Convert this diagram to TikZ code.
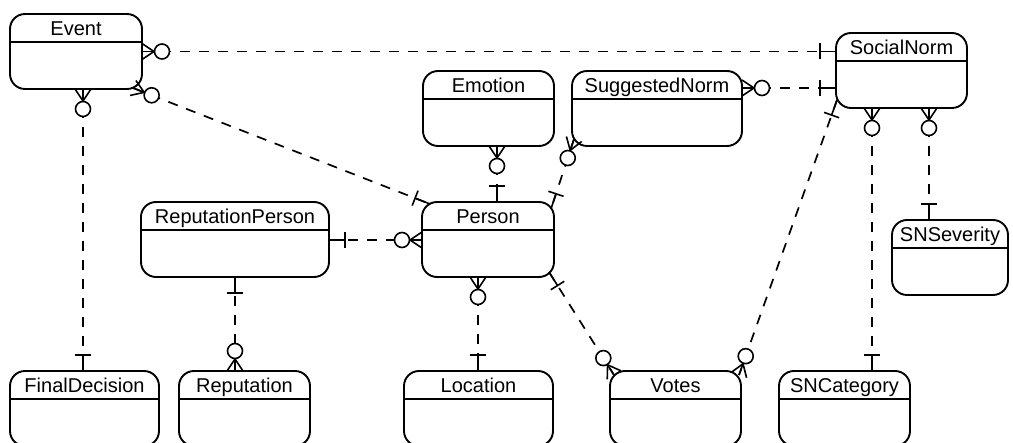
\documentclass[tikz,border=0pt]{standalone}
\usepackage{fontspec}
\setmainfont{Liberation Sans}
\usetikzlibrary{calc}

\tikzset{
  ebox/.style={draw, line width=1.9pt, rounded corners=15pt, inner sep=0pt,
    outer sep=0pt, anchor=north west},
  hdr/.style={line width=1.1pt},
  etext/.style={anchor=base, inner sep=0pt, font=\fontsize{20}{24}\selectfont},
  conn/.style={line width=1.7pt, dash pattern=on 10pt off 9pt},
  mk/.style={solid, line width=1.6pt},
}

% entity box: name, left, top, width, label
\newcommand\erbox[5]{%
  \node[ebox, minimum width=#4pt, minimum height=75pt] (#1) at (#2,#3) {};
  \draw[hdr] ($(#1.north west)+(0,28)$) -- ($(#1.north east)+(0,28)$);
  \node[etext] at ($(#1.north)+(0,22)$) {#5};
}

% zero-or-many end at #1, pointing towards #2
\newcommand\zmark[2]{%
  \draw[mk] ($(#1)!8pt!90:(#2)$) -- ($(#1)!12pt!(#2)$) -- ($(#1)!8pt!-90:(#2)$);
  \draw[mk] (#1) -- ($(#1)!12pt!(#2)$);
  \draw[mk, fill=white] ($(#1)!20pt!(#2)$) circle[radius=7.5pt];
}
% exactly-one end at #1, pointing towards #2
\newcommand\omark[2]{%
  \draw[mk] (#1) -- ($(#1)!16pt!(#2)$);
  \draw[mk] ($(#1)!16pt!(#2)!8pt!90:(#2)$) -- ($(#1)!16pt!(#2)!8pt!-90:(#2)$);
}
% relationship line: from, to, mark at start, mark at end
\newcommand\relink[4]{%
  \coordinate (la) at (#1);
  \coordinate (lb) at (#2);
  \draw[conn] (la) -- (lb);
  #3{la}{lb}
  #4{lb}{la}
}

\begin{document}
\begin{tikzpicture}[x=1pt, y=-1pt]
  \useasboundingbox (0,0) rectangle (1013,443);
  \clip (0,0) rectangle (1013,443);
  \fill[white] (0,0) rectangle (1013,443);

  % entities
  \erbox{Event}{10}{14}{132}{Event}
  \erbox{Emotion}{423}{71}{131}{Emotion}
  \erbox{SuggestedNorm}{572}{71}{170}{SuggestedNorm}
  \erbox{SocialNorm}{836}{33}{131}{SocialNorm}
  \erbox{ReputationPerson}{141}{202}{188}{ReputationPerson}
  \erbox{Person}{422}{202}{132}{Person}
  \erbox{SNSeverity}{892}{220}{116}{SNSeverity}
  \erbox{FinalDecision}{10}{371}{149}{FinalDecision}
  \erbox{Reputation}{179}{371}{131}{Reputation}
  \erbox{Location}{404}{371}{149}{Location}
  \erbox{Votes}{610}{371}{131}{Votes}
  \erbox{SNCategory}{779}{371}{131}{SNCategory}

  % relationships
  \relink{Event.east}{la -| SocialNorm.west}{\zmark}{\omark}
  \relink{$(SuggestedNorm.north east)+(0,17)$}{la -| SocialNorm.west}{\zmark}{\omark}
  \relink{$(Event.south east)+(-9,-1)$}{$(Person.north west)+(8,2)$}{\zmark}{\omark}
  \relink{$(Event.south)+(7,0)$}{la |- FinalDecision.north}{\zmark}{\omark}
  \relink{$(Emotion.south)+(8.5,0)$}{la |- Person.north}{\zmark}{\omark}
  \relink{$(SuggestedNorm.south west)+(2,-7)$}{$(Person.north east)+(-3,7)$}{\zmark}{\omark}
  \relink{$(ReputationPerson.north east)+(0,38)$}{la -| Person.west}{\omark}{\zmark}
  \relink{ReputationPerson.south}{la |- Reputation.north}{\omark}{\zmark}
  \relink{$(Person.south)+(-10,0)$}{la |- Location.north}{\zmark}{\omark}
  \relink{$(Person.south east)+(-5,-5)$}{$(Votes.north west)+(4,4)$}{\omark}{\zmark}
  \relink{$(SocialNorm.south west)+(1,-8)$}{$(Votes.north east)+(-2,4)$}{\omark}{\zmark}
  \relink{$(SocialNorm.south west)+(36,0)$}{la |- SNCategory.north}{\zmark}{\omark}
  \relink{$(SocialNorm.south west)+(93,0)$}{la |- SNSeverity.north}{\zmark}{\omark}
\end{tikzpicture}
\end{document}
